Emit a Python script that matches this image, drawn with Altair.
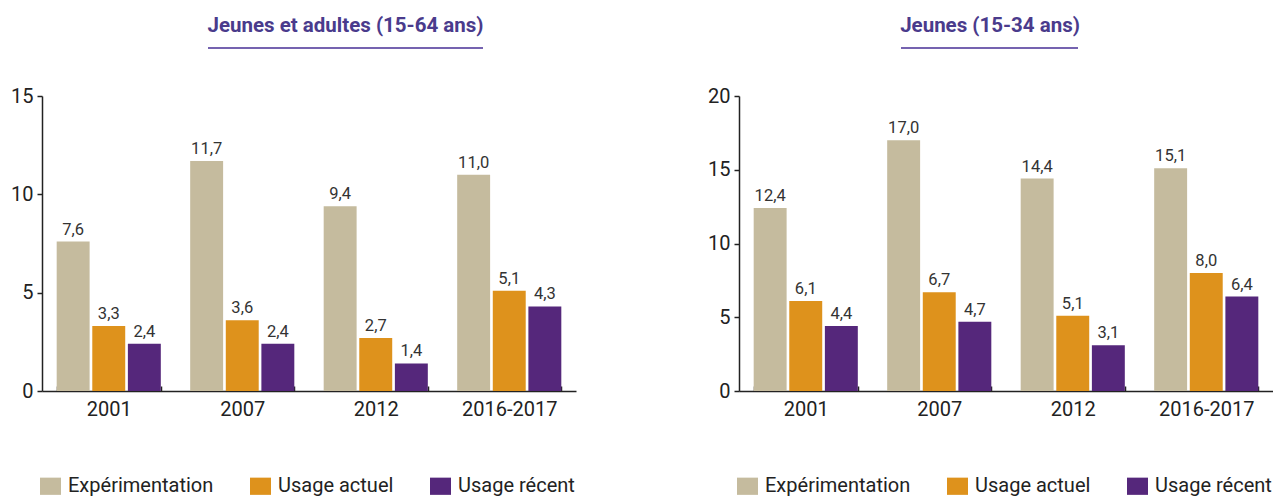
import altair as alt
import pandas as pd

cats = ["2001", "2007", "2012", "2016-2017"]
series = ["Expérimentation", "Usage actuel", "Usage récent"]
colors = ["#c5bb9e", "#de921c", "#55277b"]

left_title = "Jeunes et adultes (15-64 ans)"
left_exp = [7.6, 11.7, 9.4, 11.0]
left_act = [3.3, 3.6, 2.7, 5.1]
left_rec = [2.4, 2.4, 1.4, 4.3]

right_title = "Jeunes (15-34 ans)"
right_exp = [12.4, 17.0, 14.4, 15.1]
right_act = [6.1, 6.7, 5.1, 8.0]
right_rec = [4.4, 4.7, 3.1, 6.4]

FONT = "Roboto"
W, H = 534, 295


def panel(exp, act, rec, ymax, title, title_x, ul_x1, ul_x2, legend_x):
    df = pd.DataFrame({
        "cat": cats * 3,
        "series": [s for s in series for _ in cats],
        "value": exp + act + rec,
    })
    base = alt.Chart(df).encode(
        x=alt.X("cat:N", sort=cats, title=None,
                scale=alt.Scale(paddingInner=0.22, paddingOuter=0.11),
                axis=alt.Axis(labelAngle=0, tickBand="extent", tickSize=alt.ExprRef("-5"),
                              labelPadding=13, labelFontSize=20, labelFont=FONT,
                              labelColor="#222", domainColor="#222", domainWidth=1.5,
                              tickColor="#222", tickWidth=1.5)),
        xOffset=alt.XOffset("series:N", sort=series,
                            scale=alt.Scale(domain=series, paddingInner=0.075, paddingOuter=0)),
        y=alt.Y("value:Q", title=None,
                scale=alt.Scale(domain=[0, ymax], nice=False),
                axis=alt.Axis(values=list(range(0, ymax + 1, 5)), grid=False, tickSize=5,
                              labelPadding=4, labelFontSize=20, labelFont=FONT,
                              labelColor="#222", domainColor="#222", domainWidth=1.5,
                              tickColor="#222", tickWidth=1.5)),
    )
    bars = base.mark_bar().encode(
        color=alt.Color("series:N",
                        scale=alt.Scale(domain=series, range=colors),
                        legend=alt.Legend(title=None, orient="none", legendX=legend_x,
                                          legendY=379.5, direction="horizontal",
                                          symbolType="M-1,-0.82H1V0.82H-1Z", symbolSize=441,
                                          symbolStrokeWidth=0, symbolOpacity=1,
                                          labelFontSize=20, labelFont=FONT, labelColor="#222",
                                          labelOffset=7, columnPadding=36, labelLimit=300,
                                          padding=0)),
    )
    labels = base.transform_calculate(
        label="replace(format(datum.value, '.1f'), '.', ',')"
    ).mark_text(baseline="alphabetic", dy=-7, fontSize=16.5, font=FONT, color="#333").encode(
        text="label:N"
    )
    tdf = pd.DataFrame({"t": [title]})
    title_mark = alt.Chart(tdf).mark_text(
        font=FONT, fontSize=20.5, fontWeight="bold", color="#4a3b8c",
        baseline="alphabetic", align="center"
    ).encode(text="t:N", x=alt.value(title_x), y=alt.value(-64))
    rule = alt.Chart(tdf).mark_rule(color="#7563b0", strokeWidth=2).encode(
        x=alt.value(ul_x1), x2=alt.value(ul_x2), y=alt.value(-48)
    )
    return alt.layer(bars, labels, title_mark, rule).properties(width=W, height=H)


left = panel(left_exp, left_act, left_rec, 15, left_title, 303.5, 166, 441, -2)
right = panel(right_exp, right_act, right_rec, 20, right_title, 251, 162, 339, -2)

chart = alt.hconcat(left, right, spacing=163, bounds="flush").resolve_scale(
    y="independent", color="independent"
).resolve_legend(color="independent").configure_view(stroke=None).properties(
    padding={"left": 2, "top": 8, "right": 0, "bottom": 0}
)

chart.save("out.html", embed_options={"renderer": "svg", "actions": False})
